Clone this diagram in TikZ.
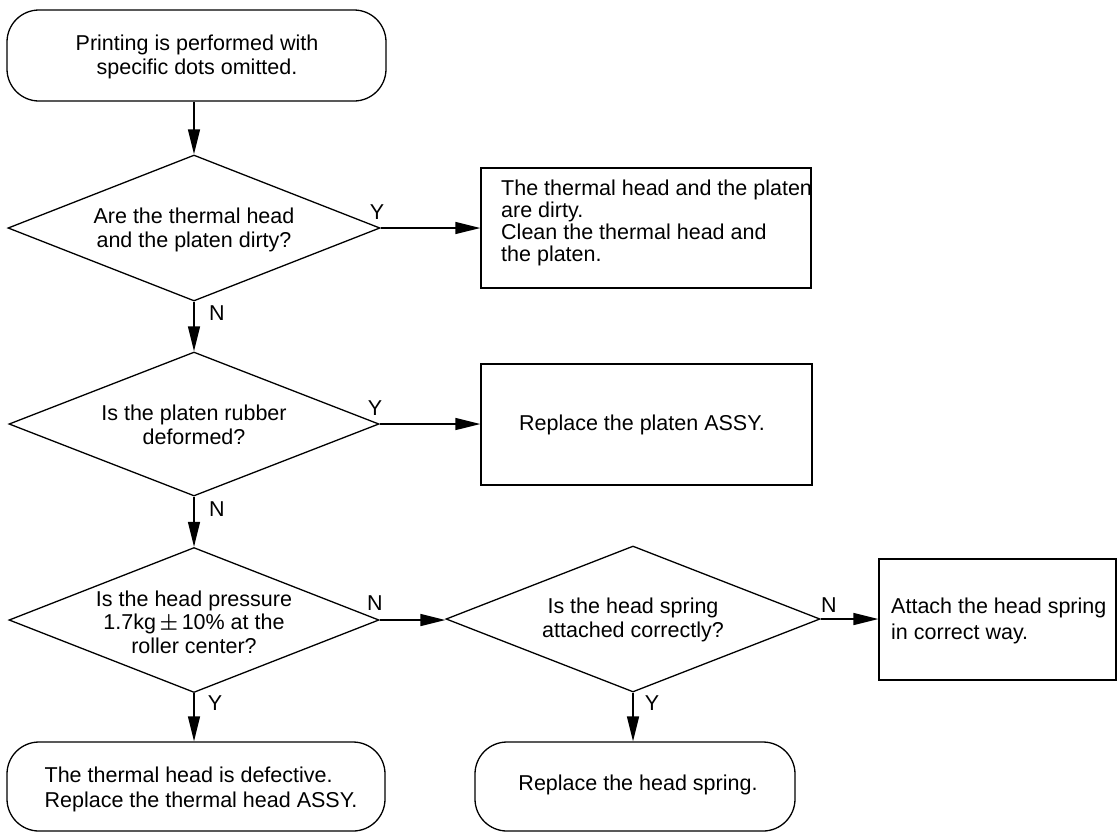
\documentclass[tikz,border=0pt]{standalone}
\usepackage{amsmath}
\usepackage{fontspec}
\setmainfont{Liberation Sans}
\usetikzlibrary{shapes.geometric,arrows.meta}
\begin{document}
\begin{tikzpicture}[x=1pt,y=-1pt,
  term/.style={draw, line width=1.3pt, rounded corners=32pt, inner sep=0pt},
  dec/.style={draw, diamond, line width=1.3pt, inner sep=0pt},
  proc/.style={draw, rectangle, line width=1.3pt, inner sep=0pt},
  txt/.style={font=\fontsize{21.5}{23.5}\selectfont, align=center, inner sep=0pt},
  ltxt/.style={font=\fontsize{21.5}{22}\selectfont, align=left, inner sep=0pt},
  lbl/.style={font=\fontsize{21.5}{23}\selectfont, inner sep=0pt},
  arr/.style={line width=1.5pt, -{Triangle[length=25pt,width=12pt]}}]
\useasboundingbox (0,0) rectangle (1118,833);

% shapes
\node[term, minimum width=379pt, minimum height=91pt] (start) at (196.5,55.5) {};
\node[dec, minimum width=372pt, minimum height=146pt] (d1) at (194,228) {};
\node[proc, minimum width=330pt, minimum height=120pt] (b1) at (646,228) {};
\node[dec, minimum width=370pt, minimum height=144pt] (d2) at (194,424) {};
\node[proc, minimum width=331pt, minimum height=121pt] (b2) at (646.5,424.5) {};
\node[dec, minimum width=370pt, minimum height=145pt] (d3) at (194,620) {};
\node[dec, minimum width=374pt, minimum height=146pt] (d4) at (633,619) {};
\node[proc, minimum width=237pt, minimum height=121pt] (b3) at (997.5,619.5) {};
\node[term, minimum width=378pt, minimum height=89pt] (e1) at (196,786.5) {};
\node[term, minimum width=320pt, minimum height=89pt] (e2) at (635,786.5) {};

% texts
\node[txt] (tstart) at (197,57) {Printing is performed with\\specific dots omitted.};
\node[txt] (td1) at (194,230) {Are the thermal head\\and the platen dirty?};
\node[ltxt, anchor=west] (tb1) at (501,222.5) {The thermal head and the platen\\are dirty.\\Clean the thermal head and\\the platen.};
\node[txt] (td2) at (194,425) {Is the platen rubber\\deformed?};
\node[txt] (tb2) at (642,425) {Replace the platen ASSY.};
\node[txt] (td3) at (194,622) {Is the head pressure\\1.7kg\,$\boldsymbol{\pm}$\,10\% at the\\roller center?};
\node[txt] (td4) at (633,620) {Is the head spring\\attached correctly?};
\node[ltxt, anchor=west, font=\fontsize{21.5}{26}\selectfont] (tb3) at (891,621) {Attach the head spring\\in correct way.};
\node[ltxt, font=\fontsize{21.5}{25}\selectfont] (te1) at (201,789.5) {The thermal head is defective.\\Replace the thermal head ASSY.};
\node[txt] (te2) at (638,785) {Replace the head spring.};

% labels
\node[lbl] (y1) at (377,212) {Y};
\node[lbl] (n1) at (217,313) {N};
\node[lbl] (y2) at (375,408) {Y};
\node[lbl] (n2) at (217,509) {N};
\node[lbl] (n3) at (375,603) {N};
\node[lbl] (n4) at (829,605) {N};
\node[lbl] (y3) at (215,703) {Y};
\node[lbl] (y4) at (652,703) {Y};

% connectors
\draw[arr] (d1.north |- start.south) -- (d1.north);
\draw[arr] (d1.east) -- (d1.east -| b1.west);
\draw[arr] (d1.south) -- (d2.north);
\draw[arr] (d2.east) -- (d2.east -| b2.west);
\draw[arr] (d2.south) -- (d3.north);
\draw[arr] (d3.east) -- (d3.east -| d4.west);
\draw[arr] (d4.east) -- (d4.east -| b3.west);
\draw[arr] (d3.south) -- (d3.south |- e1.north);
\draw[arr] (d4.south) -- (d4.south |- e2.north);
\end{tikzpicture}
\end{document}
